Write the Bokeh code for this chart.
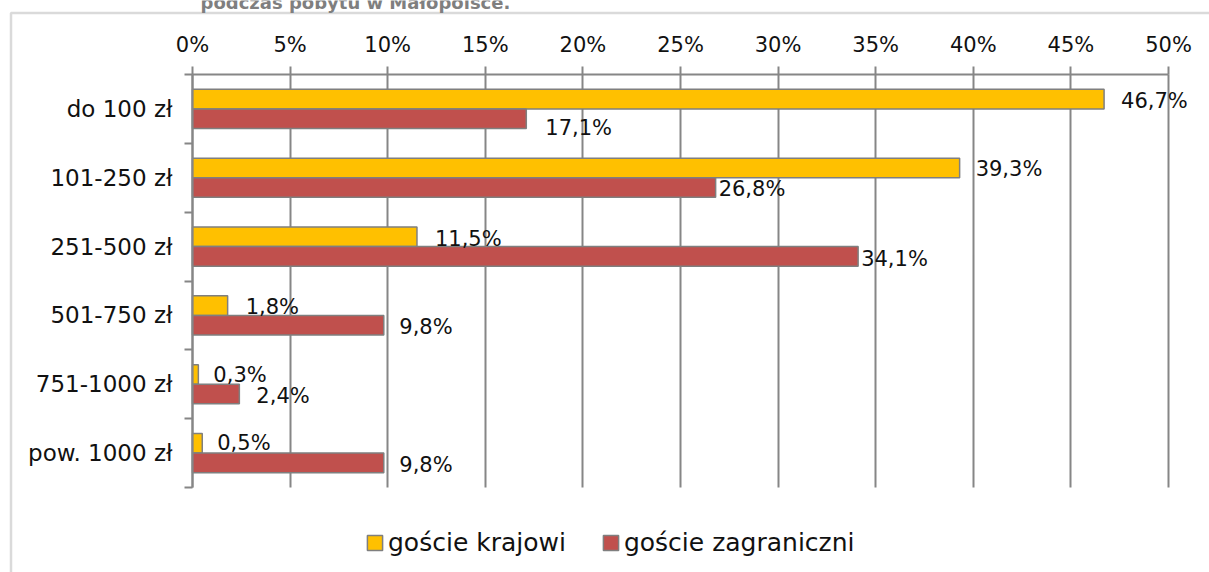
from bokeh.plotting import figure
from bokeh.models import (Range1d, FixedTicker, ColumnDataSource, Legend, LegendItem,
                          LabelSet, BoxAnnotation, Label)
from bokeh.embed import file_html
from bokeh.resources import INLINE
from bokeh.core.properties import value

# ---- data ----
categories = ["do 100 zł", "101-250 zł", "251-500 zł", "501-750 zł", "751-1000 zł", "pow. 1000 zł"]
krajowi = [46.7, 39.3, 11.5, 1.8, 0.3, 0.5]
zagraniczni = [17.1, 26.8, 34.1, 9.8, 2.4, 9.8]
series_names = ["goście krajowi", "goście zagraniczni"]
x_ticks = [0, 5, 10, 15, 20, 25, 30, 35, 40, 45, 50]
x_tick_labels = ["0%", "5%", "10%", "15%", "20%", "25%", "30%", "35%", "40%", "45%", "50%"]
title_text = "podczas pobytu w Małopolsce."

# ---- styling / layout constants ----
W, H = 1209, 572
FONT = "DejaVu Sans"
YELLOW = "#FFC000"
RED = "#C0504D"
GRAY = "#868686"
TXT = "#111111"
BAR_H = 0.284
# pixel placement of the value axis (0% .. 50%) and the category band (top .. bottom)
PX_L, PX_R = 192.0, 1168.0
PY_T, PY_B = 74.0, 487.0
# label offsets (screen px) – layout only
dx_k = [17, 16, 18, 18, 15, 15]
dy_k = [-1.5, -1, -2.5, -1.5, -0.5, 0]
dx_z = [19, 3, 3, 15.5, 17, 15.5]
dy_z = [-9, -1, -2.5, -2, -2, -2.5]

n = len(categories)
xmax = x_ticks[-1]
centers = [i + 0.5 for i in range(n)]
sx = (PX_R - PX_L) / xmax
sy = (PY_B - PY_T) / n


def fmt(v):
    return ("%.1f" % v).replace(".", ",") + "%"


src_k = ColumnDataSource(dict(
    y=[c - BAR_H / 2 for c in centers], right=krajowi,
    label=[fmt(v) for v in krajowi], dx=dx_k, dy=dy_k))
src_z = ColumnDataSource(dict(
    y=[c + BAR_H / 2 for c in centers], right=zagraniczni,
    label=[fmt(v) for v in zagraniczni], dx=dx_z, dy=dy_z))

p = figure(width=W, height=H,
           x_range=Range1d(-PX_L / sx, (W - PX_L) / sx),
           y_range=Range1d((H - PY_T) / sy, -PY_T / sy),
           x_axis_location="above", output_backend="svg", toolbar_location=None,
           min_border_left=0, min_border_right=0, min_border_top=0, min_border_bottom=0)
p.outline_line_color = None
p.background_fill_color = "white"
p.border_fill_color = "white"

r_k = p.hbar(y="y", left=0, right="right", height=BAR_H, source=src_k,
             fill_color=YELLOW, line_color="#7f7f7f", line_width=1.5)
r_z = p.hbar(y="y", left=0, right="right", height=BAR_H, source=src_z,
             fill_color=RED, line_color="#7f7f7f", line_width=1.5)

# x axis (top), fixed at the top of the category band
xt = FixedTicker(ticks=x_ticks, minor_ticks=[])
xa = p.xaxis[0]
xa.ticker = xt
xa.fixed_location = 0
xa.bounds = (0, xmax)
xa.major_label_overrides = {t: l for t, l in zip(x_ticks, x_tick_labels)}
xa.axis_line_color = GRAY
xa.axis_line_width = 2
xa.major_tick_line_color = GRAY
xa.major_tick_line_width = 2
xa.major_tick_out = 8
xa.major_tick_in = 0
xa.minor_tick_line_color = None
xa.major_label_text_font = FONT
xa.major_label_text_font_size = "21px"
xa.major_label_text_color = TXT
xa.major_label_standoff = 10

# y axis (left), fixed at 0%
yt = FixedTicker(ticks=centers, minor_ticks=list(range(n + 1)))
ya = p.yaxis[0]
ya.ticker = yt
ya.fixed_location = 0
ya.bounds = (0, n)
ya.major_label_overrides = {c: l for c, l in zip(centers, categories)}
ya.axis_line_color = GRAY
ya.axis_line_width = 2
ya.major_tick_line_color = None
ya.major_tick_out = 0
ya.major_tick_in = 0
ya.minor_tick_line_color = GRAY
ya.minor_tick_line_width = 2
ya.minor_tick_out = 8
ya.minor_tick_in = 0
ya.major_label_text_font = FONT
ya.major_label_text_font_size = "23px"
ya.major_label_text_color = TXT
ya.major_label_standoff = 12

p.xgrid.ticker = xt
p.xgrid.cross_bounds = (0, n)
p.xgrid.grid_line_color = GRAY
p.xgrid.grid_line_width = 2
p.ygrid.visible = False

for src in (src_k, src_z):
    p.add_layout(LabelSet(x="right", y="y", text="label", source=src,
                          x_offset="dx", y_offset="dy",
                          text_align="left", text_baseline="middle",
                          text_font=value(FONT), text_font_size="21px",
                          text_color=TXT))

legend = Legend(items=[LegendItem(label=series_names[0], renderers=[r_k]),
                       LegendItem(label=series_names[1], renderers=[r_z])],
                orientation="horizontal", location=(365, 15),
                glyph_width=19, glyph_height=19, label_standoff=4, spacing=35,
                padding=0, margin=0, border_line_color=None, background_fill_alpha=0,
                label_text_font=FONT, label_text_font_size="25px",
                label_text_color=TXT)
p.add_layout(legend, "center")

# outer chart frame (its left and top edges are visible in the crop)
p.add_layout(BoxAnnotation(left=10.5, right=5000, top=12.5, bottom=5000,
                           left_units="canvas", right_units="canvas",
                           top_units="canvas", bottom_units="canvas",
                           fill_alpha=0, line_color=GRAY, line_width=2.5))

# chart title, cut off at the top of the crop as in the source image
p.add_layout(Label(x=200, y=2, x_units="canvas", y_units="canvas", text=title_text,
                   text_align="left", text_baseline="alphabetic",
                   text_font=FONT, text_font_style="bold", text_font_size="18px",
                   text_color="#7f7f7f"))

open("out.html", "w").write(file_html(p, INLINE))
